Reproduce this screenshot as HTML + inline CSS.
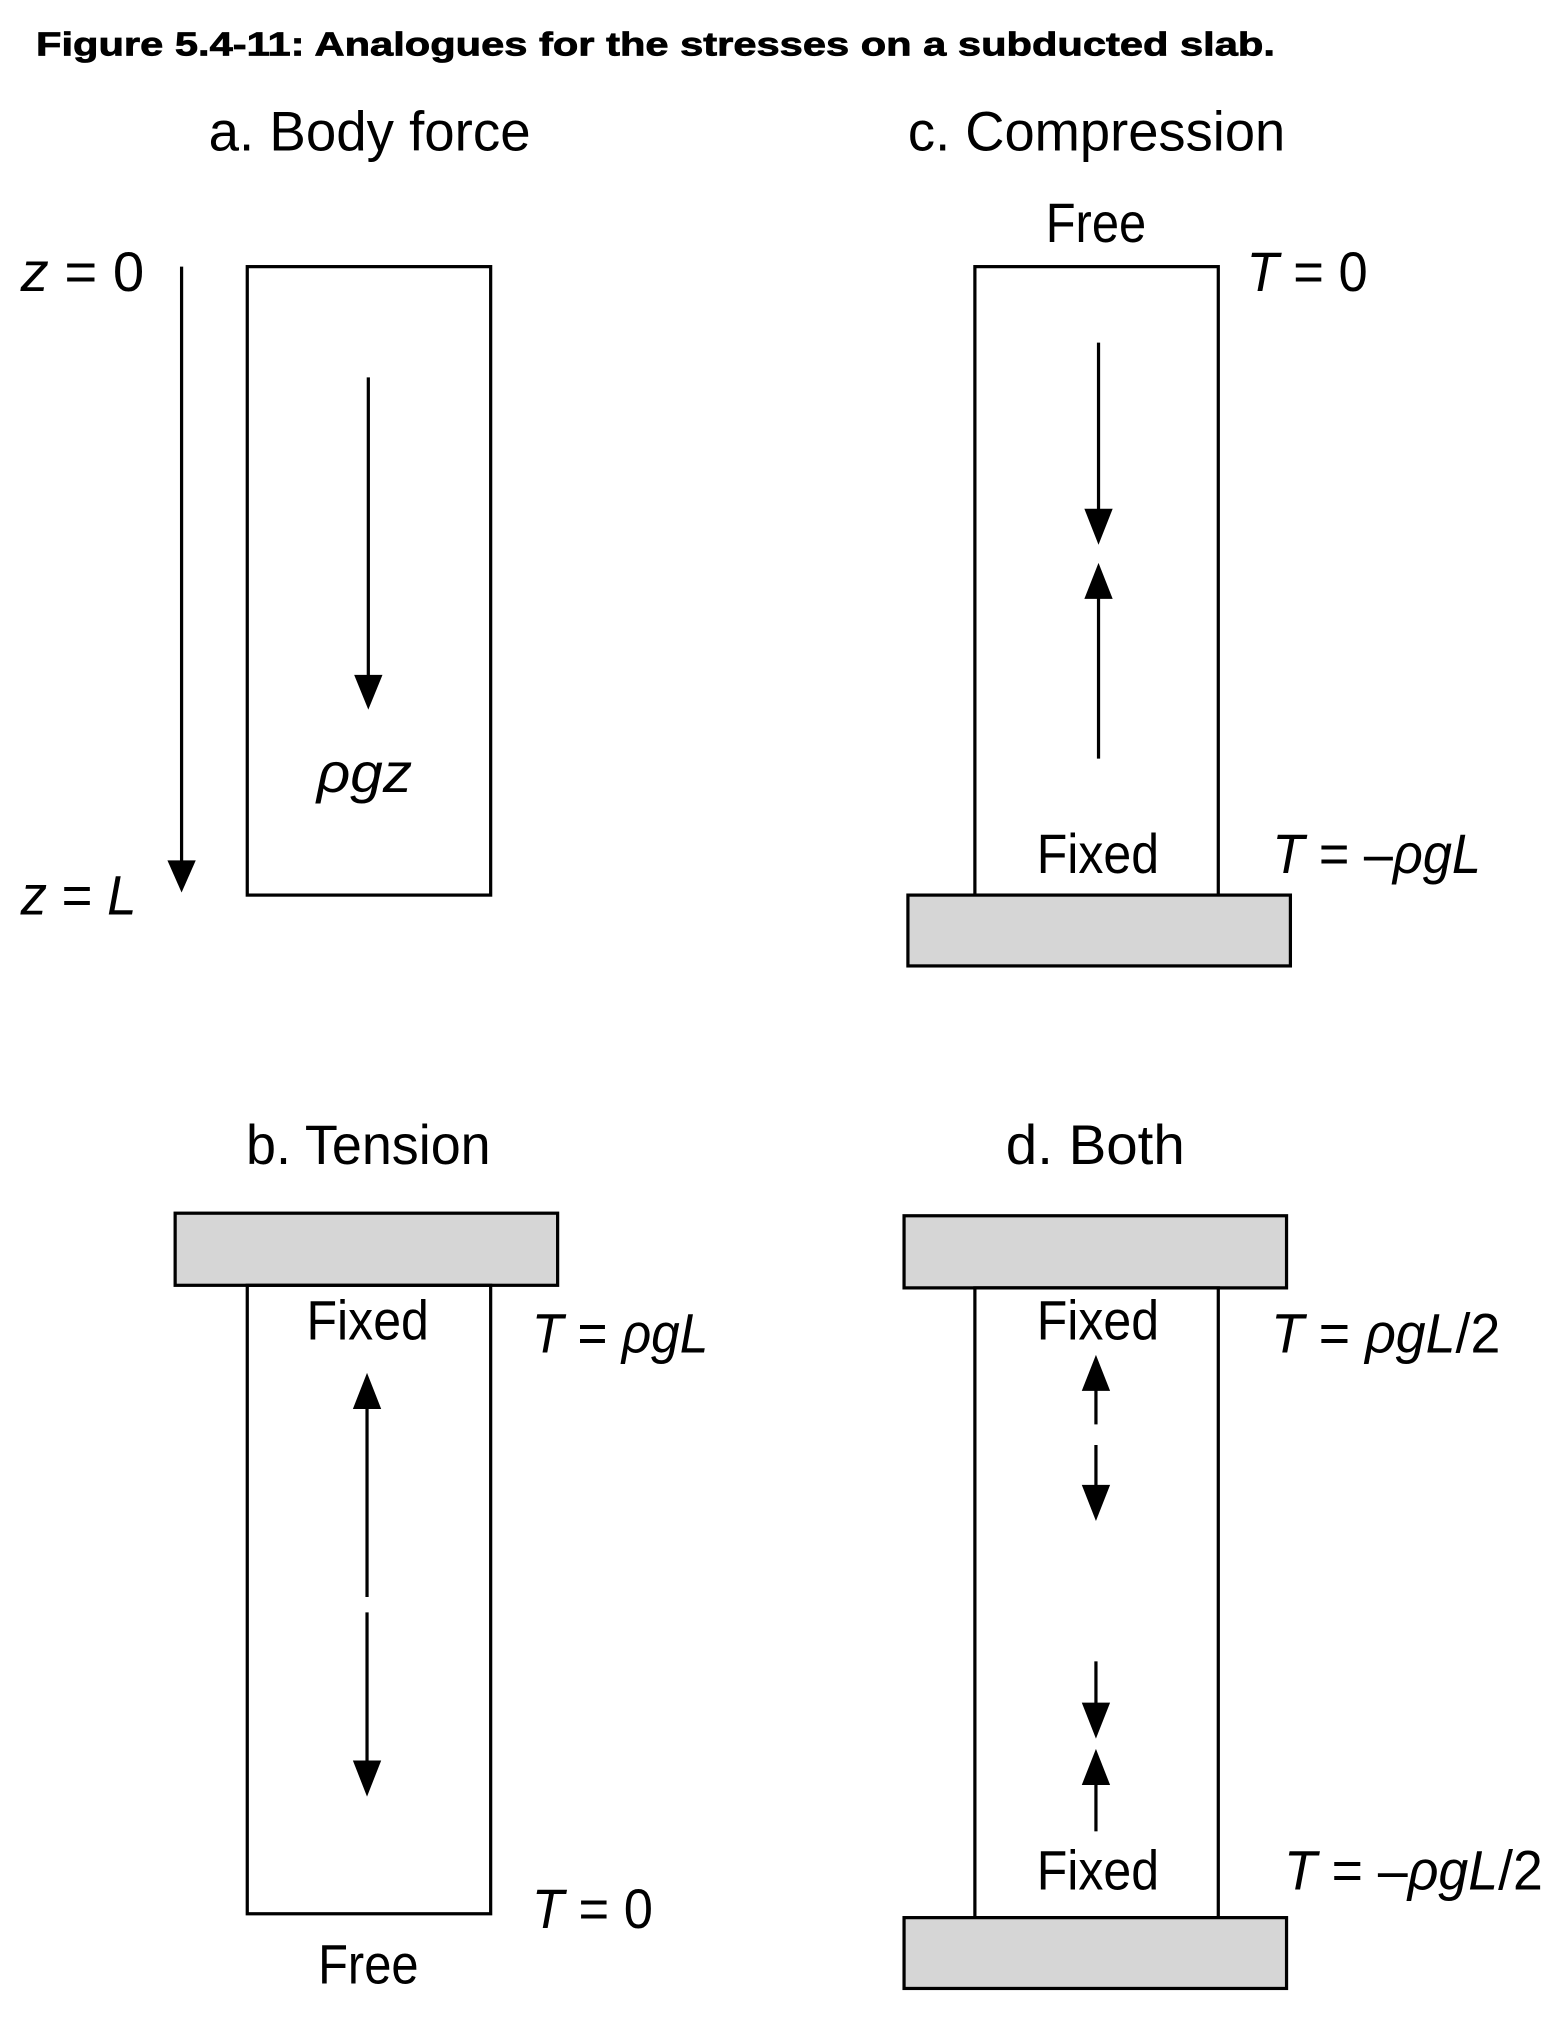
<!DOCTYPE html>
<html><head><meta charset="utf-8"><style>
html,body{margin:0;padding:0;background:#fff;}
svg{display:block;}
text{font-family:"Liberation Sans",sans-serif;fill:#000;}
.l{font-size:43px;}
.i{font-style:italic;}
</style></head><body>
<svg width="1566" height="2022" viewBox="0 0 1216 1570" xmlns="http://www.w3.org/2000/svg">
<g stroke="#000" stroke-width="2.5" fill="none">
<line x1="141" y1="207" x2="141" y2="670"/>
<rect x="192" y="207" width="189" height="488"/>
<line x1="286" y1="293" x2="286" y2="525"/>
<rect x="757" y="207" width="189" height="488"/>
<line x1="853" y1="266" x2="853" y2="398"/>
<line x1="853" y1="462" x2="853" y2="589"/>
<rect x="705" y="695" width="297" height="55" fill="#d6d6d6"/>
<rect x="136" y="942" width="297" height="56" fill="#d6d6d6"/>
<rect x="192" y="998" width="189" height="488"/>
<line x1="285" y1="1090" x2="285" y2="1240"/>
<line x1="285" y1="1252" x2="285" y2="1372"/>
<rect x="702" y="944" width="297" height="56" fill="#d6d6d6"/>
<rect x="757" y="1000" width="189" height="489"/>
<rect x="702" y="1489" width="297" height="55" fill="#d6d6d6"/>
<line x1="851" y1="1076" x2="851" y2="1112" stroke-dasharray="30,8"/>
<line x1="851" y1="1122" x2="851" y2="1158"/>
<line x1="851" y1="1290" x2="851" y2="1326"/>
<line x1="851" y1="1382" x2="851" y2="1422"/>
</g>
<g fill="#000">
<path d="M130,668 L152,668 L141,693 Z"/>
<path d="M275,524 L297,524 L286,551 Z"/>
<path d="M842,395 L864,395 L853,423 Z"/>
<path d="M842,465 L864,465 L853,437 Z"/>
<path d="M274,1094 L296,1094 L285,1066 Z"/>
<path d="M274,1367 L296,1367 L285,1395 Z"/>
<path d="M840,1080 L862,1080 L851,1052 Z"/>
<path d="M840,1153 L862,1153 L851,1181 Z"/>
<path d="M840,1322 L862,1322 L851,1350 Z"/>
<path d="M840,1386 L862,1386 L851,1358 Z"/>
</g>
<text x="28" y="43" font-size="26" font-weight="bold" stroke="#000" stroke-width="0.6" textLength="962" lengthAdjust="spacingAndGlyphs">Figure 5.4-11: Analogues for the stresses on a subducted slab.</text>
<text class="l" x="162" y="117" textLength="250" lengthAdjust="spacingAndGlyphs">a. Body force</text>
<text class="l" x="705" y="117" textLength="293" lengthAdjust="spacingAndGlyphs">c. Compression</text>
<text class="l" x="16" y="226" textLength="96" lengthAdjust="spacingAndGlyphs"><tspan class="i">z</tspan> = 0</text>
<text class="l" x="16" y="710" textLength="90" lengthAdjust="spacingAndGlyphs"><tspan class="i">z</tspan> = <tspan class="i">L</tspan></text>
<text class="l i" x="246" y="615" textLength="74" lengthAdjust="spacingAndGlyphs">ρgz</text>
<text class="l" x="812" y="188" textLength="78" lengthAdjust="spacingAndGlyphs">Free</text>
<text class="l" x="968" y="226" textLength="94" lengthAdjust="spacingAndGlyphs"><tspan class="i">T</tspan> = 0</text>
<text class="l" x="805" y="678" textLength="95" lengthAdjust="spacingAndGlyphs">Fixed</text>
<text class="l" x="988" y="678" textLength="162" lengthAdjust="spacingAndGlyphs"><tspan class="i">T</tspan> = –<tspan class="i">ρgL</tspan></text>
<text class="l" x="191" y="904" textLength="190" lengthAdjust="spacingAndGlyphs">b. Tension</text>
<text class="l" x="781" y="904" textLength="139" lengthAdjust="spacingAndGlyphs">d. Both</text>
<text class="l" x="238" y="1040" textLength="95" lengthAdjust="spacingAndGlyphs">Fixed</text>
<text class="l" x="413" y="1050" textLength="137" lengthAdjust="spacingAndGlyphs"><tspan class="i">T</tspan> = <tspan class="i">ρgL</tspan></text>
<text class="l" x="413" y="1497" textLength="94" lengthAdjust="spacingAndGlyphs"><tspan class="i">T</tspan> = 0</text>
<text class="l" x="247" y="1540" textLength="78" lengthAdjust="spacingAndGlyphs">Free</text>
<text class="l" x="805" y="1040" textLength="95" lengthAdjust="spacingAndGlyphs">Fixed</text>
<text class="l" x="987" y="1050" textLength="178" lengthAdjust="spacingAndGlyphs"><tspan class="i">T</tspan> = <tspan class="i">ρgL</tspan>/2</text>
<text class="l" x="805" y="1467" textLength="95" lengthAdjust="spacingAndGlyphs">Fixed</text>
<text class="l" x="997" y="1467" textLength="201" lengthAdjust="spacingAndGlyphs"><tspan class="i">T</tspan> = –<tspan class="i">ρgL</tspan>/2</text>
</svg>
</body></html>
